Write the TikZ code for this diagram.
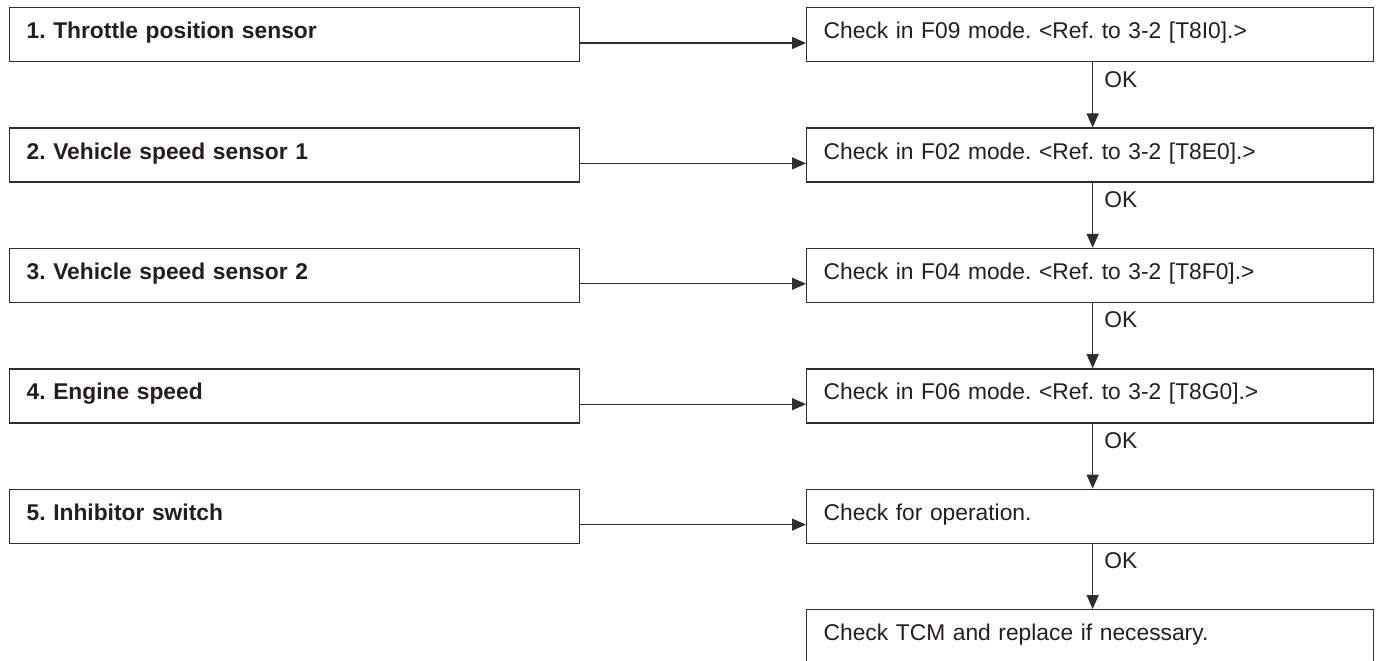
\documentclass[tikz,border=0pt]{standalone}
\usepackage{fontspec}
\setmainfont{Liberation Sans}
\usetikzlibrary{arrows.meta}
\frenchspacing
\definecolor{ink}{HTML}{231F20}
\definecolor{edge}{HTML}{2E2E2E}
\tikzset{
  base box/.style={draw=edge, line width=1.3pt, anchor=north west, align=left,
    text=ink, inner xsep=17pt, inner ysep=15pt, text height=16pt, text depth=8pt,
    font=\fontsize{22.8}{27}\selectfont},
  leftbox/.style={base box, text width=536pt, font=\fontsize{22.8}{27}\selectfont\bfseries},
  rightbox/.style={base box, text width=533pt},
  arr/.style={draw=edge, line width=1.3pt, -{Triangle[length=14pt,width=12pt]}},
  oklabel/.style={text=ink, inner sep=0pt, anchor=base west, xshift=11pt,
    font=\fontsize{22.8}{27}\selectfont}
}
\begin{document}
\frenchspacing
\begin{tikzpicture}[x=1pt,y=-1pt]
\useasboundingbox (0,0) rectangle (1379,661);
\node[leftbox] (L1) at (9,7) {1. Throttle position sensor};
\node[leftbox] (L2) at (9,127.4) {2. Vehicle speed sensor 1};
\node[leftbox] (L3) at (9,247.8) {3. Vehicle speed sensor 2};
\node[leftbox] (L4) at (9,368.2) {4. Engine speed};
\node[leftbox] (L5) at (9,488.6) {5. Inhibitor switch};
\node[rightbox] (R1) at (806,7) {Check in F09 mode. <Ref. to 3-2 [T8I0].>};
\node[rightbox] (R2) at (806,127.4) {Check in F02 mode. <Ref. to 3-2 [T8E0].>};
\node[rightbox] (R3) at (806,247.8) {Check in F04 mode. <Ref. to 3-2 [T8F0].>};
\node[rightbox] (R4) at (806,368.2) {Check in F06 mode. <Ref. to 3-2 [T8G0].>};
\node[rightbox] (R5) at (806,488.6) {Check for operation.};
\node[rightbox] (R6) at (806,609) {Check TCM and replace if necessary.};
\foreach \i in {1,...,5}{
  \draw[arr] ([yshift=-36pt]L\i.north east) -- ([yshift=-36pt]R\i.north west);
}
\foreach \i/\j in {1/2,2/3,3/4,4/5,5/6}{
  \draw[arr] ([xshift=2.5pt]R\i.south) -- node[oklabel, pos=0.38] (ok\i) {OK} ([xshift=2.5pt]R\j.north);
}
\end{tikzpicture}
\end{document}
